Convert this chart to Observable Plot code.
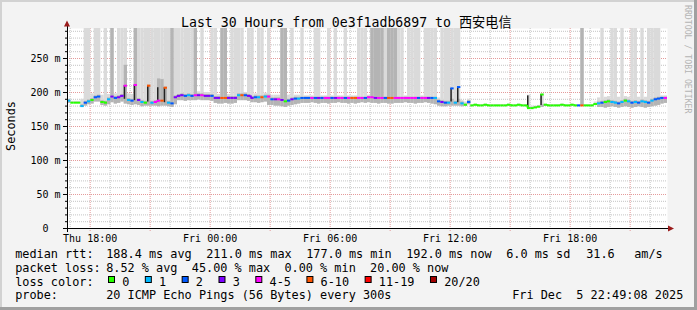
<!DOCTYPE html>
<html><head><meta charset="utf-8">
<script src="https://cdn.jsdelivr.net/npm/d3@7"></script>
<script src="https://cdn.jsdelivr.net/npm/@observablehq/plot@0.6"></script>
<style>
html,body{margin:0;padding:0;background:#f3f3f3;}
svg{display:block}
</style></head><body><div id="chart"></div>
<script>
// ---------- texts ----------
const title = "Last 30 Hours from 0e3f1adb6897 to 西安电信";
const yLabel = "Seconds";
const credit = "RRDTOOL / TOBI OETIKER";
const statRow1 = [["median rtt:",16],["188.4 ms avg",107],["211.0 ms max",207],["177.0 ms min",307],["192.0 ms now",407],["6.0 ms sd",507],["31.6",587],["am/s",635]];
const statRow2 = [["packet loss:",16],["8.52 % avg  45.00 % max  0.00 % min  20.00 % now",107]];
const statRow4 = [["probe:",16],["20 ICMP Echo Pings (56 Bytes) every 300s",107],["Fri Dec  5 22:49:08 2025",513]];
const lossLabel = "loss color:";

// ---------- scales / ticks ----------
const startTime = Date.UTC(2025, 11, 4, 16, 52); // Thu Dec 4 16:52
const endTime   = Date.UTC(2025, 11, 5, 22, 52); // Fri Dec 5 22:52
const stepMs = 10 * 60 * 1000;
const yMax = 294.1;
const yTicks = [0, 50, 100, 150, 200, 250];
const yMinor = [10,20,30,40,60,70,80,90,110,120,130,140,160,170,180,190,210,220,230,240,260,270,280,290];
const xLabelTicks = [Date.UTC(2025,11,4,18), Date.UTC(2025,11,5,0), Date.UTC(2025,11,5,6), Date.UTC(2025,11,5,12), Date.UTC(2025,11,5,18)];
const lossClasses = ["0","1","2","3","4-5","6-10","11-19","20/20"];
const lossColors  = ["#26ff00","#00b8ff","#0059ff","#7e00ff","#ff00ff","#ff5500","#ff0000","#a10000"];

// ---------- data (10 minute steps, ms) ----------
const med = [
 188,185,185,185,180,185,187,189,193,194, 186,185,190,194,192,193,195,210,189,188,
 211,189,186,185,210,185,186,188,188,207, 185,184,193,195,196,195,196,195,196,196,
 196,195,195,195,192,192,192,192,192,192, 192,196,196,196,195,192,193,193,193,194,
 194,190,190,190,189,187,188,190,191,191, 192,192,192,192,192,192,192,192,192,192,
 192,192,192,192,192,192,192,192,192,192, 193,193,192,192,192,192,192,192,192,192,
 192,192,192,192,192,192,192,192,192,192, 192,187,186,185,185,206,185,208,184,182,
 186,181,182,181,181,182,181,181,181,181, 181,181,182,181,181,182,181,181,177,177,
 178,179,197,182,181,181,181,181,182,181, 181,182,181,181,181,181,181,181,183,184,
 185,186,187,186,185,184,186,188,187,185, 186,185,187,186,185,188,190,191,192,192];
const loss = [
 1,0,0,0,1,2,1,0,2,2, 0,0,1,3,2,3,3,4,1,2,
 4,3,1,0,6,1,4,5,6,6, 1,2,3,3,3,2,1,2,4,3,
 4,3,3,2,3,3,6,6,3,3, 3,1,6,2,3,3,2,1,6,1,
 4,2,3,4,3,0,2,3,2,1, 2,2,2,4,2,3,2,4,4,2,
 3,4,4,2,4,6,6,4,4,2, 4,4,3,4,4,2,6,6,4,4,
 4,4,4,4,4,2,4,4,3,2, 1,2,3,2,1,2,1,2,1,0,
 2,0,0,0,0,0,0,0,0,0, 0,0,0,0,0,0,0,0,0,0,
 0,0,0,0,0,0,0,0,0,0, 0,0,0,2,6,0,0,0,0,1,
 2,0,0,1,1,2,1,0,1,2, 1,2,1,1,2,1,2,2,2,4];
const smokeMin = [
 184,184,184,184,178,180,182,183,186,186, 181,180,182,185,183,184,186,183,182,181,
 182,181,179,180,180,180,180,179,180,180, 179,178,182,188,188,187,188,188,188,189,
 188,188,188,187,184,183,183,184,183,183, 184,188,188,188,187,185,185,184,185,186,
 181,181,180,180,179,178,180,181,182,183, 184,184,184,185,184,183,184,184,183,184,
 184,185,184,184,183,184,183,184,185,184, 185,184,184,183,184,184,183,183,184,184,
 184,185,184,184,183,184,184,185,184,183, 182,180,179,179,180,180,180,180,179,180,
 182,180,180,180,180,180,180,180,180,180, 180,180,180,180,180,180,180,180,176,176,
 177,178,178,180,180,180,180,180,180,180, 180,180,180,180,180,180,180,180,181,178,
 178,177,178,179,178,177,178,179,178,177, 178,179,178,177,178,179,180,181,183,184];
const smokeMax = [
 190,187,187,187,190,195,197,198,198,199, 196,195,197,199,198,199,200,215,198,197,
 214,198,197,196,214,196,197,210,210,210, 197,196,199,200,201,200,201,200,201,201,
 201,200,200,200,197,197,197,197,197,197, 197,200,200,200,199,197,198,198,198,199,
 199,196,196,196,196,195,196,196,196,196, 196,195,195,195,195,195,195,195,195,195,
 195,195,195,195,195,195,195,195,195,195, 196,196,195,195,195,195,195,195,195,195,
 195,195,195,195,195,195,195,195,195,195, 195,192,191,190,190,208,190,210,188,186,
 190,182,183,182,182,183,182,182,182,182, 182,182,183,182,182,183,182,182,196,180,
 180,181,198,183,182,182,182,182,183,182, 182,183,182,182,182,182,182,182,186,192,
 193,193,194,193,192,193,193,194,193,192, 193,193,194,193,193,194,195,195,195,195];
const smokeMid = [
 189,185,185,185,182,187,189,191,195,196, 188,187,192,196,194,195,197,240,191,190,
 212,191,188,187,211,187,188,220,219,208, 187,186,195,197,198,197,198,197,198,198,
 198,197,197,197,194,194,194,194,194,194, 194,198,198,198,197,194,195,195,195,196,
 196,192,192,192,191,189,190,192,193,193, 193,193,193,193,193,193,193,193,193,193,
 193,193,193,193,193,193,193,193,193,193, 194,194,193,193,193,193,193,193,193,193,
 193,193,193,193,193,193,193,193,193,193, 193,189,188,187,187,190,187,190,186,183,
 188,181,182,181,181,182,181,181,181,181, 181,181,182,181,181,182,181,181,178,178,
 179,180,182,182,181,181,181,181,182,181, 181,182,181,181,181,181,181,181,183,186,
 187,188,189,188,187,186,188,190,189,187, 188,187,189,188,187,190,192,193,193,193];
// steps whose slowest pings go off the top of the chart
const tallLight = [5,6,8,9,11,15,16,17,21,22,23,24,25,26,27,28,29,30,32,33,34,35,36,37,40,43,44,49,50,51,52,54,55,57,58,60,67,70,74,75,78,80,83,87,88,89,95,99,100,102,103,104,105,107,108,109,110,112,113,114,115,116,117,160,163,164,166,169,170,172,174,175,176,177];
const tallDark = [13,20,31,38,46,47,64,65,91,92,93,94,96,97,98,154];
// dense (dark) smoke on jumps
const spikeStep = [17, 20, 24, 27, 29, 115, 117, 138, 142];
const spikeLo   = [190,188,186,186,185,186,185,177,181];
const spikeHi   = [210,211,210,207,207,206,208,195,197];
const offTop = 300;

// ---------- build tables ----------
function lossClass(n){ if(n<=3) return lossClasses[n]; if(n<=5) return "4-5"; if(n<=10) return "6-10"; if(n<=19) return "11-19"; return "20/20"; }
const steps = med.map((m,i)=>({
  t0: new Date(startTime + i*stepMs), t1: new Date(startTime + (i+1)*stepMs),
  med: m, cls: lossClass(loss[i]), lo: smokeMin[i],
  hi: (tallLight.includes(i)||tallDark.includes(i)) ? offTop : smokeMax[i],
  mid: tallDark.includes(i) ? offTop : smokeMid[i]
}));
const conns = [];
for (let i=0;i<steps.length-1;i++){
  const d = Math.abs(steps[i].med - steps[i+1].med);
  if (steps[i].cls===steps[i+1].cls && d>0 && d<=6)
    conns.push({t: steps[i].t1, y1: steps[i].med, y2: steps[i+1].med, cls: steps[i].cls});
}
const spikes = spikeStep.map((s,k)=>({t0: steps[s].t0, t1: new Date(+steps[s].t0 + stepMs*0.45), y1: spikeLo[k], y2: spikeHi[k]}));
const hours = d3.utcHour.range(new Date(startTime), new Date(endTime));
const xMajor = hours.filter(d=>d.getUTCHours()%3===0);
const xMinor = hours.filter(d=>d.getUTCHours()%3!==0);

const fmtX = d3.utcFormat("%a %H:%M");
const svg = Plot.plot({
  width: 697, height: 310,
  marginLeft: 67, marginRight: 30, marginTop: 28, marginBottom: 82,
  style: {background: "#f3f3f3", fontFamily: "DejaVu Sans Mono", fontSize: "10px", color: "#000"},
  x: {type: "utc", domain: [new Date(startTime), new Date(endTime)], label: null},
  y: {domain: [0, yMax], label: null},
  color: {domain: lossClasses, range: lossColors},
  marks: [
    Plot.frame({fill: "white", stroke: "none"}),
    Plot.ruleY(yMinor, {stroke: "#c4c4c4", strokeDasharray: "1,1"}),
    Plot.ruleX(xMinor, {stroke: "#c4c4c4", strokeDasharray: "1,1"}),
    Plot.ruleY(yTicks.filter(v=>v>0), {stroke: "#e49a9a", strokeDasharray: "1,1"}),
    Plot.ruleX(xMajor, {stroke: "#e49a9a", strokeDasharray: "1,1", insetBottom: -3}),
    Plot.rect(steps, {x1: "t0", x2: "t1", y1: "lo", y2: "hi", fill: "#dadada", clip: true}),
    Plot.rect(steps, {x1: "t0", x2: "t1", y1: "lo", y2: "mid", fill: "#b4b4b4", clip: true}),
    Plot.rect(spikes, {x1: "t0", x2: "t1", y1: "y1", y2: "y2", fill: "#222"}),
    Plot.ruleX(conns, {x: "t", y1: "y1", y2: "y2", stroke: "cls", strokeWidth: 2}),
    Plot.ruleY(steps, {x1: "t0", x2: "t1", y: "med", stroke: "cls", strokeWidth: 2}),
    Plot.ruleY([0], {stroke: "black", insetLeft: -4, insetRight: -2}),
    Plot.ruleX([new Date(startTime)], {stroke: "black", insetTop: -3, insetBottom: -4}),
    Plot.axisY(yMinor, {tickSize: 2, tickFormat: () => ""}),
    Plot.axisY(yTicks, {tickSize: 4, tickPadding: 3, tickFormat: v => v===0 ? "0\u00a0\u00a0" : v + " m"}),
    Plot.axisX(xLabelTicks.map(d=>new Date(d)), {tickSize: 0, tickPadding: 6, tickFormat: fmtX})
  ]
});
document.getElementById("chart").appendChild(svg);

// ---------- decorations ----------
const s = d3.select(svg);
const mono = "DejaVu Sans Mono, Noto Sans CJK SC, monospace";
function txt(){ return s.append("text").attr("text-anchor","start").attr("font-family",mono).attr("fill","#000")
  .attr("xml:space","preserve").style("white-space","pre"); }
// border
s.append("line").attr("x1",0).attr("x2",697).attr("y1",1).attr("y2",1).attr("stroke","#d2d2d2").attr("stroke-width",2);
s.append("line").attr("x1",1).attr("x2",1).attr("y1",0).attr("y2",310).attr("stroke","#d2d2d2").attr("stroke-width",2);
s.append("line").attr("x1",0).attr("x2",697).attr("y1",308.5).attr("y2",308.5).attr("stroke","#a0a0a0").attr("stroke-width",3);
s.append("line").attr("x1",695.5).attr("x2",695.5).attr("y1",0).attr("y2",310).attr("stroke","#a0a0a0").attr("stroke-width",3);
// arrows
s.append("path").attr("d","M67,20.5 L64,26.5 L70,26.5 Z").attr("fill","#9a1b1b");
s.append("path").attr("d","M674,228.5 L668,225.5 L668,231.5 Z").attr("fill","#9a1b1b");
// title
txt().attr("x",181).attr("y",26.5).attr("font-size",13.2).text(title);
// y label
txt().attr("transform","translate(15,126) rotate(-90)").attr("text-anchor","middle")
  .attr("font-size",11.85).text(yLabel);
// credit
txt().attr("transform","translate(685,5) rotate(90)").attr("font-size",8.2).attr("fill","#b4b4b4").text(credit);
// legend rows
function row(items, y){
  items.forEach(([t,x])=>{ txt().attr("x",x-0.8).attr("y",y).attr("font-size",11.85).text(t); });
}
row(statRow1, 258);
row(statRow2, 272);
row([[lossLabel,16]], 285.5);
row(statRow4, 299);
let bx = 108;
lossClasses.forEach((c,k)=>{
  s.append("rect").attr("x",bx+0.5).attr("y",276.5).attr("width",6).attr("height",6)
    .attr("fill",lossColors[k]).attr("stroke","#000").attr("stroke-width",1);
  txt().attr("x",bx+15-0.8).attr("y",285.5).attr("font-size",11.85).text(c);
  bx += 15 + c.length*7.13 + 14.7;
});
</script></body></html>
